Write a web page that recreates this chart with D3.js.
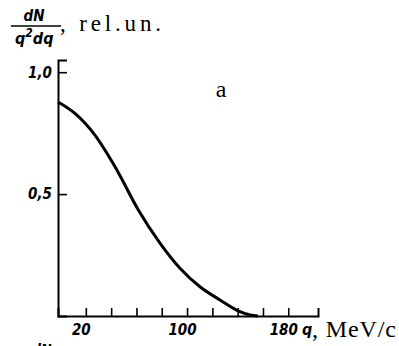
<!DOCTYPE html>
<html>
<head>
<meta charset="utf-8">
<script src="https://cdn.jsdelivr.net/npm/d3@7"></script>
<style>
  body { margin: 0; background: #fff; }
  svg { display: block; }
  .num { font-family: "DejaVu Sans"; font-stretch: condensed; font-style: italic; font-weight: bold; }
  .serif { font-family: "Liberation Serif", "DejaVu Serif", serif; }
</style>
</head>
<body>
<div id="chart"></div>
<script>

// q in MeV/c, dN/(q^2 dq) in relative units
var qValues   = [-2, 11.4, 27.2, 43.1, 61.5, 78.6, 94.4, 110.2, 126, 141.8, 149.8, 156];
var dnValues  = [0.878, 0.831, 0.742, 0.612, 0.435, 0.299, 0.196, 0.120, 0.066, 0.018, 0.004, 0];
var xTicks    = [20, 40, 60, 80, 100, 120, 140, 160, 180];
var xLabelled = [20, 100, 180];
var yTicks    = [0.5, 1.0];

var width = 399, height = 346;

var svg = d3.select("#chart").append("svg")
    .attr("width", width)
    .attr("height", height);

var x = d3.scaleLinear().domain([-2, 203.5]).range([58, 318]);
var y = d3.scaleLinear().domain([0, 1.05]).range([316, 60]);

var comma = function(v){ return d3.format(".1f")(v).replace(".", ","); };

// x axis, ticks pointing up
var gx = svg.append("g")
    .attr("transform", "translate(0," + y(0) + ")")
    .call(d3.axisBottom(x).tickValues(xTicks).tickSize(-8).tickPadding(8)
        .tickFormat(function(d){ return xLabelled.indexOf(d) >= 0 ? d : ""; }));
gx.select(".domain").attr("stroke-width", 2);
gx.selectAll(".tick line").attr("stroke-width", 1.6);
gx.selectAll("text").attr("class", "num").style("font-size", "15px").attr("dx", -5).attr("fill", "#000");

// y axis, ticks pointing right
var gy = svg.append("g")
    .attr("transform", "translate(" + x(-2) + ",0)")
    .call(d3.axisLeft(y).tickValues(yTicks).tickSize(-9).tickPadding(6).tickFormat(comma));
gy.select(".domain").attr("stroke-width", 2);
gy.selectAll(".tick line").attr("stroke-width", 1.6);
gy.selectAll("text").attr("class", "num").style("font-size", "15px").attr("fill", "#000");

// curve
var pts = qValues.map(function(q, i){ return [q, dnValues[i]]; });
svg.append("path")
    .datum(pts)
    .attr("fill", "none")
    .attr("stroke", "#000")
    .attr("stroke-width", 3)
    .attr("d", d3.line()
        .x(function(d){ return x(d[0]); })
        .y(function(d){ return y(d[1]); })
        .curve(d3.curveMonotoneX));

// y title: dN / q^2 dq , rel.un.
var yt = svg.append("g");
yt.append("text").attr("class", "num").style("font-size", "15px")
    .attr("x", 34).attr("y", 21).attr("text-anchor", "middle").text("dN");
yt.append("line").attr("x1", 11).attr("x2", 61).attr("y1", 26).attr("y2", 26)
    .attr("stroke", "#000").attr("stroke-width", 1.6);
var den = yt.append("text").attr("class", "num").style("font-size", "16px")
    .attr("x", 15).attr("y", 44);
den.append("tspan").text("q");
den.append("tspan").style("font-size", "12px").attr("dy", -7).text("2");
den.append("tspan").attr("dy", 7).text("dq");
svg.append("text").attr("class", "serif").style("font-size", "23px")
    .attr("x", 60).attr("y", 31)
    .attr("textLength", 101).attr("lengthAdjust", "spacing")
    .text(", rel.un.");

// x title
svg.append("text").attr("class", "num").style("font-size", "16px")
    .attr("x", 302).attr("y", 335).text("q");
svg.append("text").attr("class", "serif").style("font-size", "24px")
    .attr("x", 312).attr("y", 337)
    .attr("textLength", 84).attr("lengthAdjust", "spacing")
    .text(", MeV/c");

// panel letter
svg.append("text").attr("class", "serif").style("font-size", "24px")
    .attr("x", 221).attr("y", 97).attr("text-anchor", "middle").text("a");

// top of the next panel's label, cut by the page edge
svg.append("text").attr("class", "num").style("font-size", "14px")
    .attr("x", 32).attr("y", 354).text("dN");

</script>
</body>
</html>
